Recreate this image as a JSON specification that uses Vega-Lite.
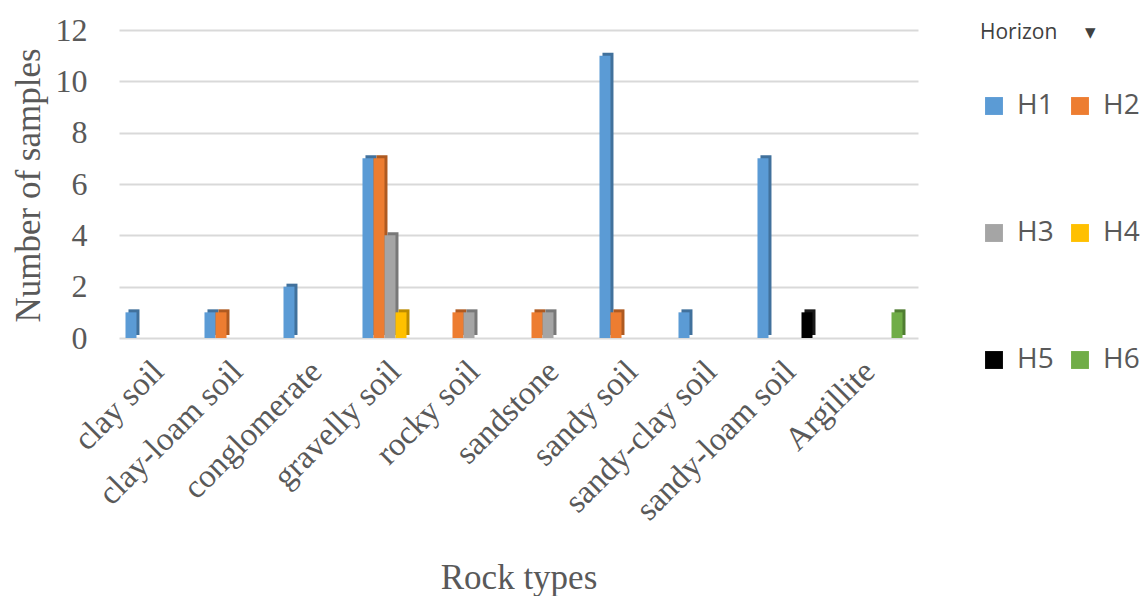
{
  "$schema": "https://vega.github.io/schema/vega-lite/v6.json",
  "width": 799,
  "height": 308,
  "autosize": {"type": "none"},
  "padding": {"left": 119, "top": 30, "right": 227, "bottom": 258},
  "background": "white",
  "config": {
    "view": {"stroke": null},
    "axis": {"labelColor": "#595959", "titleColor": "#595959", "labelFont": "Liberation Serif", "titleFont": "Liberation Serif", "titleFontWeight": "normal"}
  },
  "data": {
    "values": [
      {"rock": "clay soil", "horizon": "H1", "n": 1},
      {"rock": "clay-loam soil", "horizon": "H1", "n": 1},
      {"rock": "clay-loam soil", "horizon": "H2", "n": 1},
      {"rock": "conglomerate", "horizon": "H1", "n": 2},
      {"rock": "gravelly soil", "horizon": "H1", "n": 7},
      {"rock": "gravelly soil", "horizon": "H2", "n": 7},
      {"rock": "gravelly soil", "horizon": "H3", "n": 4},
      {"rock": "gravelly soil", "horizon": "H4", "n": 1},
      {"rock": "rocky soil", "horizon": "H2", "n": 1},
      {"rock": "rocky soil", "horizon": "H3", "n": 1},
      {"rock": "sandstone", "horizon": "H2", "n": 1},
      {"rock": "sandstone", "horizon": "H3", "n": 1},
      {"rock": "sandy soil", "horizon": "H1", "n": 11},
      {"rock": "sandy soil", "horizon": "H2", "n": 1},
      {"rock": "sandy-clay soil", "horizon": "H1", "n": 1},
      {"rock": "sandy-loam soil", "horizon": "H1", "n": 7},
      {"rock": "sandy-loam soil", "horizon": "H5", "n": 1},
      {"rock": "Argillite", "horizon": "H6", "n": 1}
    ]
  },
  "encoding": {
    "x": {
      "field": "rock", "type": "nominal",
      "scale": {
        "domain": ["clay soil", "clay-loam soil", "conglomerate", "gravelly soil", "rocky soil", "sandstone", "sandy soil", "sandy-clay soil", "sandy-loam soil", "Argillite"],
        "paddingInner": 0, "paddingOuter": 0.057, "align": 0
      },
      "axis": {
        "title": "Rock types", "titleFontSize": 35, "titleY": 222, "titleBaseline": "top",
        "labelAngle": -45, "labelAlign": "right", "labelBaseline": "middle", "labelFontSize": 33, "labelPadding": 28,
        "labelOverlap": false, "labelLimit": 400,
        "domain": false, "ticks": false, "grid": false
      }
    },
    "y": {
      "field": "n", "type": "quantitative",
      "scale": {"domain": [0, 12], "nice": false},
      "axis": {
        "title": "Number of samples", "titleFontSize": 35, "titleAngle": -90, "titleX": -91, "titleY": 155,
        "titleAlign": "center", "titleBaseline": "middle",
        "values": [0, 2, 4, 6, 8, 10, 12], "labelFontSize": 32, "labelPadding": 32,
        "domain": false, "ticks": false, "grid": true, "gridColor": "#D9D9D9", "gridWidth": 2
      }
    }
  },
  "layer": [
    {
      "mark": {"type": "bar", "yOffset": -3},
      "encoding": {
        "xOffset": {
          "field": "horizon", "type": "nominal",
          "scale": {"domain": ["H1", "H2", "H3", "H4", "H5", "H6"], "paddingInner": 0, "paddingOuter": 0.59, "align": 0.73}
        },
        "color": {
          "field": "horizon", "type": "nominal", "legend": null,
          "scale": {"domain": ["H1", "H2", "H3", "H4", "H5", "H6"], "range": ["#41719C", "#AE5A21", "#787878", "#BC8C00", "#1a1a1a", "#507E32"]}
        }
      }
    },
    {
      "mark": {"type": "bar"},
      "encoding": {
        "xOffset": {
          "field": "horizon", "type": "nominal",
          "scale": {"domain": ["H1", "H2", "H3", "H4", "H5", "H6"], "paddingInner": 0, "paddingOuter": 0.59, "align": 0.5}
        },
        "color": {
          "field": "horizon", "type": "nominal",
          "scale": {"domain": ["H1", "H2", "H3", "H4", "H5", "H6"], "range": ["#5B9BD5", "#ED7D31", "#A5A5A5", "#FFC000", "#000000", "#70AD47"]},
          "legend": {
            "title": "Horizon\u00a0\u00a0\u00a0\u00a0\u00a0▾", "orient": "none", "legendX": 861, "legendY": -8,
            "direction": "horizontal", "columns": 2, "columnPadding": 12, "rowPadding": 99,
            "titleFont": "Open Sans", "titleFontSize": 21, "titleFontWeight": "normal", "titleColor": "#404040", "titlePadding": 49,
            "labelFont": "Open Sans", "labelFontSize": 28, "labelColor": "#595959", "labelOffset": 9,
            "symbolType": "square", "symbolSize": 320, "symbolStrokeWidth": 0
          }
        }
      }
    }
  ],
  "resolve": {"scale": {"color": "independent", "xOffset": "independent"}}
}
